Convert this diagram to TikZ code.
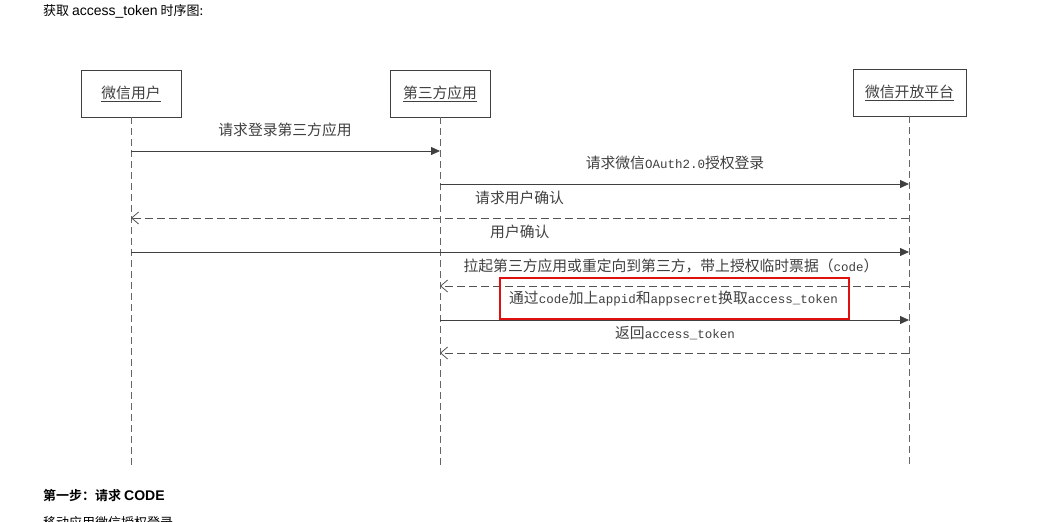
\documentclass[tikz,border=0pt]{standalone}
\usepackage{fontspec}
\newfontfamily\cjk{Noto Sans CJK SC}[BoldFont={Noto Sans CJK SC Bold}]
\newfontfamily\lmono{Liberation Mono}
\newfontfamily\lsans{Liberation Sans}
\newcommand{\mt}[1]{{\lmono\fontsize{12.5}{14}\selectfont #1}}
\newcommand{\st}[1]{{\lsans\fontsize{14}{15}\selectfont #1}}
\usetikzlibrary{arrows.meta}
\definecolor{ink}{HTML}{404040}
\definecolor{redbox}{HTML}{E01010}
\begin{document}
\begin{tikzpicture}[x=1pt,y=-1pt,
  actor/.style={draw=ink,line width=0.8pt,minimum width=100pt,minimum height=47pt,inner sep=0pt,font=\cjk\fontsize{14.8}{15}\selectfont,text=ink},
  lifeline/.style={draw=ink!80,line width=0.7pt,dash pattern=on 7pt off 4pt},
  msg/.style={draw=ink,line width=0.8pt,-{Triangle[length=9pt,width=8pt]}},
  ret/.style={draw=ink!90,line width=0.8pt,dash pattern=on 8pt off 4pt,-{Straight Barb[length=7pt,width=12pt,line width=0.8pt]}},
  lbl/.style={font=\cjk\fontsize{14.8}{15}\selectfont,text=ink,inner sep=0pt},
  doc/.style={font=\cjk\fontsize{13}{14}\selectfont,text=black,inner sep=0pt,anchor=west}]
\useasboundingbox[fill=white] (0,0) rectangle (1042,522);
% header and footer text
\node[doc] (title) at (43,11) {获取 \st{access\_token} 时序图:};
\node[doc,font=\cjk\bfseries\fontsize{13}{14}\selectfont] (step) at (43,496) {第一步：请求 \st{\bfseries CODE}};
\node[doc,anchor=north west] (cut) at (43,516.5) {移动应用微信授权登录};
% actors
\node[actor] (u) at (131,93.5) {\underline{微信用户}};
\node[actor] (a) at (440,93.5) {\underline{第三方应用}};
\node[actor,minimum width=113pt] (p) at (909.5,92.5) {\underline{微信开放平台}};
% lifeline ends
\coordinate (ue) at (131,465);
\coordinate (ae) at (440,465);
\coordinate (pe) at (909,465);
\draw[lifeline] (u.south) -- (ue);
\draw[lifeline] (a.south) -- (ae);
\draw[lifeline] (p.south -| pe) -- (pe);
% message endpoints
\coordinate (u1) at (131,151); \coordinate (a1) at (440,151);
\coordinate (a2) at (440,184); \coordinate (p2) at (909,184);
\coordinate (p3) at (909,218); \coordinate (u3) at (131,218);
\coordinate (u4) at (131,252); \coordinate (p4) at (909,252);
\coordinate (p5) at (909,286); \coordinate (a5) at (440,286);
\coordinate (a6) at (440,320); \coordinate (p6) at (909,320);
\coordinate (p7) at (909,353); \coordinate (a7) at (440,353);
% messages
\draw[msg] (u1) -- (a1);
\draw[msg] (a2) -- (p2);
\draw[ret] (p3) -- (u3);
\draw[msg] (u4) -- (p4);
\draw[ret] (p5) -- (a5);
\draw[msg] (a6) -- (p6);
\draw[ret] (p7) -- (a7);
% labels
\node[lbl] (l1) at (285,130) {请求登录第三方应用};
\node[lbl] (l2) at (675,163) {请求微信\mt{OAuth2.0}授权登录};
\node[lbl,anchor=west] (l3) at (475,198) {请求用户确认};
\node[lbl,anchor=west] (l4) at (490,232) {用户确认};
\node[lbl] (l5) at (671,266) {拉起第三方应用或重定向到第三方，带上授权临时票据（\mt{code}）};
\node[lbl] (l6) at (673.5,299) {通过\mt{code}加上\mt{appid}和\mt{appsecret}换取\mt{access\_token}};
\node[lbl] (l7) at (675,333) {返回\mt{access\_token}};
% highlight
\node[draw=redbox,line width=1.6pt,minimum width=349pt,minimum height=41pt,inner sep=0pt] (hl) at (674.5,298.5) {};
\end{tikzpicture}
\end{document}
